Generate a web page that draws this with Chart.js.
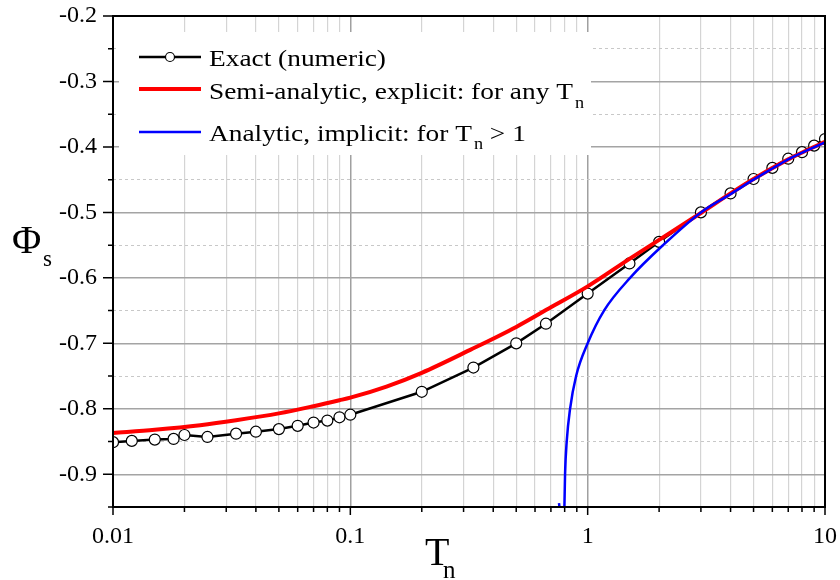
<!DOCTYPE html>
<html>
<head>
<meta charset="utf-8">
<script src="https://cdn.jsdelivr.net/npm/chart.js@4.4.1/dist/chart.umd.min.js"></script>
<style>
  html, body { margin: 0; padding: 0; background: #fff; }
</style>
</head>
<body>
<canvas id="chart" width="840" height="580"></canvas>
<script>
// Exact (numeric) solution — circles
const exactT   = [0.01, 0.012, 0.015, 0.018, 0.02, 0.025, 0.033, 0.04, 0.05, 0.06, 0.07, 0.08, 0.09, 0.1,
                  0.2, 0.33, 0.5, 0.667, 1, 1.5, 2, 3, 4, 5, 6, 7, 8, 9, 10]
const exactPhi = [-0.851, -0.849, -0.847, -0.846, -0.840, -0.843, -0.838, -0.835, -0.831, -0.826, -0.821, -0.818, -0.813, -0.809,
                  -0.774, -0.737, -0.700, -0.670, -0.624, -0.578, -0.545, -0.500, -0.471, -0.449, -0.432, -0.418, -0.408, -0.398, -0.388]

// Semi-analytic, explicit (red)
const semiT   = [0.01, 0.015, 0.0233, 0.033, 0.05, 0.07, 0.09, 0.1, 0.142, 0.2, 0.32, 0.5, 0.7, 1, 1.5, 2, 3, 4, 5, 7, 10]
const semiPhi = [-0.837, -0.832, -0.825, -0.8175, -0.807, -0.796, -0.787, -0.783, -0.766, -0.745, -0.710, -0.675, -0.645,
                 -0.613, -0.571, -0.542, -0.501, -0.471, -0.449, -0.419, -0.392]

// Analytic, implicit (blue)
const anaT   = [0.757, 0.775, 0.796, 0.798, 0.803, 0.816, 0.843, 0.894, 1.0, 1.172, 1.509, 2.078, 3.0, 4, 5, 6, 7, 10]
const anaPhi = [-0.944, -0.968, -0.962, -0.95, -0.90, -0.85, -0.80, -0.75, -0.70, -0.65, -0.60, -0.55, -0.50,
                -0.472, -0.450, -0.433, -0.419, -0.393]

// axes
const X_TICKS = [0.01, 0.02, 0.03, 0.04, 0.05, 0.06, 0.07, 0.08, 0.09,
                 0.1, 0.2, 0.3, 0.4, 0.5, 0.6, 0.7, 0.8, 0.9,
                 1, 2, 3, 4, 5, 6, 7, 8, 9, 10]
const X_DECADES = [0.01, 0.1, 1, 10]
const Y_TICKS = [-0.95, -0.9, -0.85, -0.8, -0.75, -0.7, -0.65, -0.6, -0.55, -0.5, -0.45, -0.4, -0.35, -0.3, -0.25, -0.2]

const SERIF = '"Liberation Serif", "Times New Roman", serif'

const isDecade = v => X_DECADES.some(d => Math.abs(d - v) < 1e-9)
const isMajorY = v => v != null && Math.abs(Math.round(v * 100)) % 10 === 0
const toPoints = (xs, ys) => xs.map((x, i) => ({ x, y: ys[i] }))

// text with a slight horizontal stretch, like the original export
function wideText(ctx, str, x, y, size, sx = 1.14) {
  ctx.save()
  ctx.font = `${size}px ${SERIF}`
  ctx.translate(x, y)
  ctx.scale(sx, 1)
  ctx.fillText(str, 0, 0)
  const w = ctx.measureText(str).width * sx
  ctx.restore()
  return w
}

const decor = {
  id: 'decor',
  beforeDatasetsDraw(chart) {
    // legend box hides the grid behind it
    const { ctx } = chart
    ctx.save()
    ctx.fillStyle = '#fff'
    ctx.fillRect(119, 32, 472, 123)
    ctx.restore()
  },
  afterDraw(chart) {
    const { ctx, chartArea: { left, right, top, bottom } } = chart
    const xs = chart.scales.x, ys = chart.scales.y
    ctx.save()

    // tick marks (outside)
    ctx.strokeStyle = '#000'
    ctx.lineWidth = 1.5
    ctx.beginPath()
    xs.ticks.forEach(t => {
      const px = xs.getPixelForValue(t.value)
      const len = isDecade(t.value) ? 8 : 5
      ctx.moveTo(px, bottom); ctx.lineTo(px, bottom + len)
    })
    ys.ticks.forEach(t => {
      const py = ys.getPixelForValue(t.value)
      const len = isMajorY(t.value) ? 10 : 5
      ctx.moveTo(left - len, py); ctx.lineTo(left, py)
    })
    ctx.stroke()

    // frame
    ctx.lineWidth = 2
    ctx.strokeRect(left, top, right - left, bottom - top)

    // legend
    ctx.textBaseline = 'alphabetic'
    ctx.lineCap = 'butt'

    ctx.strokeStyle = '#000'; ctx.lineWidth = 2.5
    ctx.beginPath(); ctx.moveTo(139, 57); ctx.lineTo(201, 57); ctx.stroke()
    ctx.beginPath(); ctx.arc(170, 57, 4.5, 0, Math.PI * 2)
    ctx.fillStyle = '#fff'; ctx.fill()
    ctx.lineWidth = 1.2; ctx.stroke()
    ctx.fillStyle = '#000'
    wideText(ctx, 'Exact (numeric)', 209, 66, 24)

    ctx.strokeStyle = '#ff0000'; ctx.lineWidth = 4
    ctx.beginPath(); ctx.moveTo(139, 89); ctx.lineTo(201, 89); ctx.stroke()
    let w = wideText(ctx, 'Semi-analytic, explicit: for any T', 209, 99, 24)
    wideText(ctx, 'n', 209 + w + 2, 108, 16)

    ctx.strokeStyle = '#0000ff'; ctx.lineWidth = 2.5
    ctx.beginPath(); ctx.moveTo(139, 132); ctx.lineTo(201, 132); ctx.stroke()
    w = wideText(ctx, 'Analytic, implicit: for T', 209, 141, 24)
    const wn = wideText(ctx, 'n', 209 + w + 2, 149, 16)
    wideText(ctx, ' > 1', 209 + w + 2 + wn, 141, 24)

    // axis titles
    ctx.font = `40px ${SERIF}`
    ctx.fillText('T', 425, 565)
    ctx.font = `25px ${SERIF}`
    ctx.fillText('n', 443, 578)
    ctx.font = `40px ${SERIF}`
    ctx.fillText('\u03A6', 12, 253)
    ctx.font = `23px ${SERIF}`
    ctx.fillText('s', 43, 266)

    ctx.restore()
  },
}

new Chart(document.getElementById('chart'), {
  type: 'line',
  data: {
    datasets: [
      {
        label: 'Exact (numeric)',
        data: toPoints(exactT, exactPhi),
        borderColor: '#000',
        borderWidth: 2.5,
        pointRadius: 5.5,
        pointBackgroundColor: '#fff',
        pointBorderColor: '#000',
        pointBorderWidth: 1.2,
        tension: 0,
        order: 3,
      },
      {
        label: 'Semi-analytic, explicit: for any Tn',
        data: toPoints(semiT, semiPhi),
        borderColor: '#ff0000',
        borderWidth: 4,
        pointRadius: 0,
        cubicInterpolationMode: 'monotone',
        order: 2,
      },
      {
        label: 'Analytic, implicit: for Tn > 1',
        data: toPoints(anaT, anaPhi),
        borderColor: '#0000ff',
        borderWidth: 2.5,
        pointRadius: 0,
        cubicInterpolationMode: 'monotone',
        order: 1,
      },
    ],
  },
  options: {
    responsive: false,
    animation: false,
    events: [],
    layout: { padding: 0 },
    plugins: {
      legend: { display: false },
      tooltip: { enabled: false },
    },
    scales: {
      x: {
        type: 'logarithmic',
        min: 0.01,
        max: 10,
        afterBuildTicks: s => { s.ticks = X_TICKS.map(v => ({ value: v })) },
        afterFit: s => { s.height = 73; s.paddingLeft = 0; s.paddingRight = 15 },
        border: { display: false },
        grid: {
          drawTicks: false,
          color: c => (c.tick && isDecade(c.tick.value)) ? '#a0a0a0' : '#d4d4d4',
          lineWidth: c => (c.tick && isDecade(c.tick.value)) ? 1.5 : 1.2,
        },
        ticks: {
          autoSkip: false,
          maxRotation: 0,
          padding: 15,
          color: '#000',
          font: { family: SERIF, size: 24 },
          callback: v => isDecade(v) ? String(v) : '',
        },
      },
      y: {
        type: 'linear',
        min: -0.95,
        max: -0.2,
        afterBuildTicks: s => { s.ticks = Y_TICKS.map(v => ({ value: v })) },
        afterFit: s => { s.width = 113; s.paddingTop = 16; s.paddingBottom = 0 },
        border: { display: false, dash: c => (c.tick && isMajorY(c.tick.value)) ? [] : [3, 3] },
        grid: {
          drawTicks: false,
          color: c => (c.tick && isMajorY(c.tick.value)) ? '#a4a4a4' : '#c8c8c8',
          lineWidth: c => (c.tick && isMajorY(c.tick.value)) ? 1.5 : 1,
        },
        ticks: {
          autoSkip: false,
          padding: 16,
          color: '#000',
          font: { family: SERIF, size: 24 },
          callback: v => isMajorY(v) ? v.toFixed(1) : '',
        },
      },
    },
  },
  plugins: [decor],
})
</script>
</body>
</html>
